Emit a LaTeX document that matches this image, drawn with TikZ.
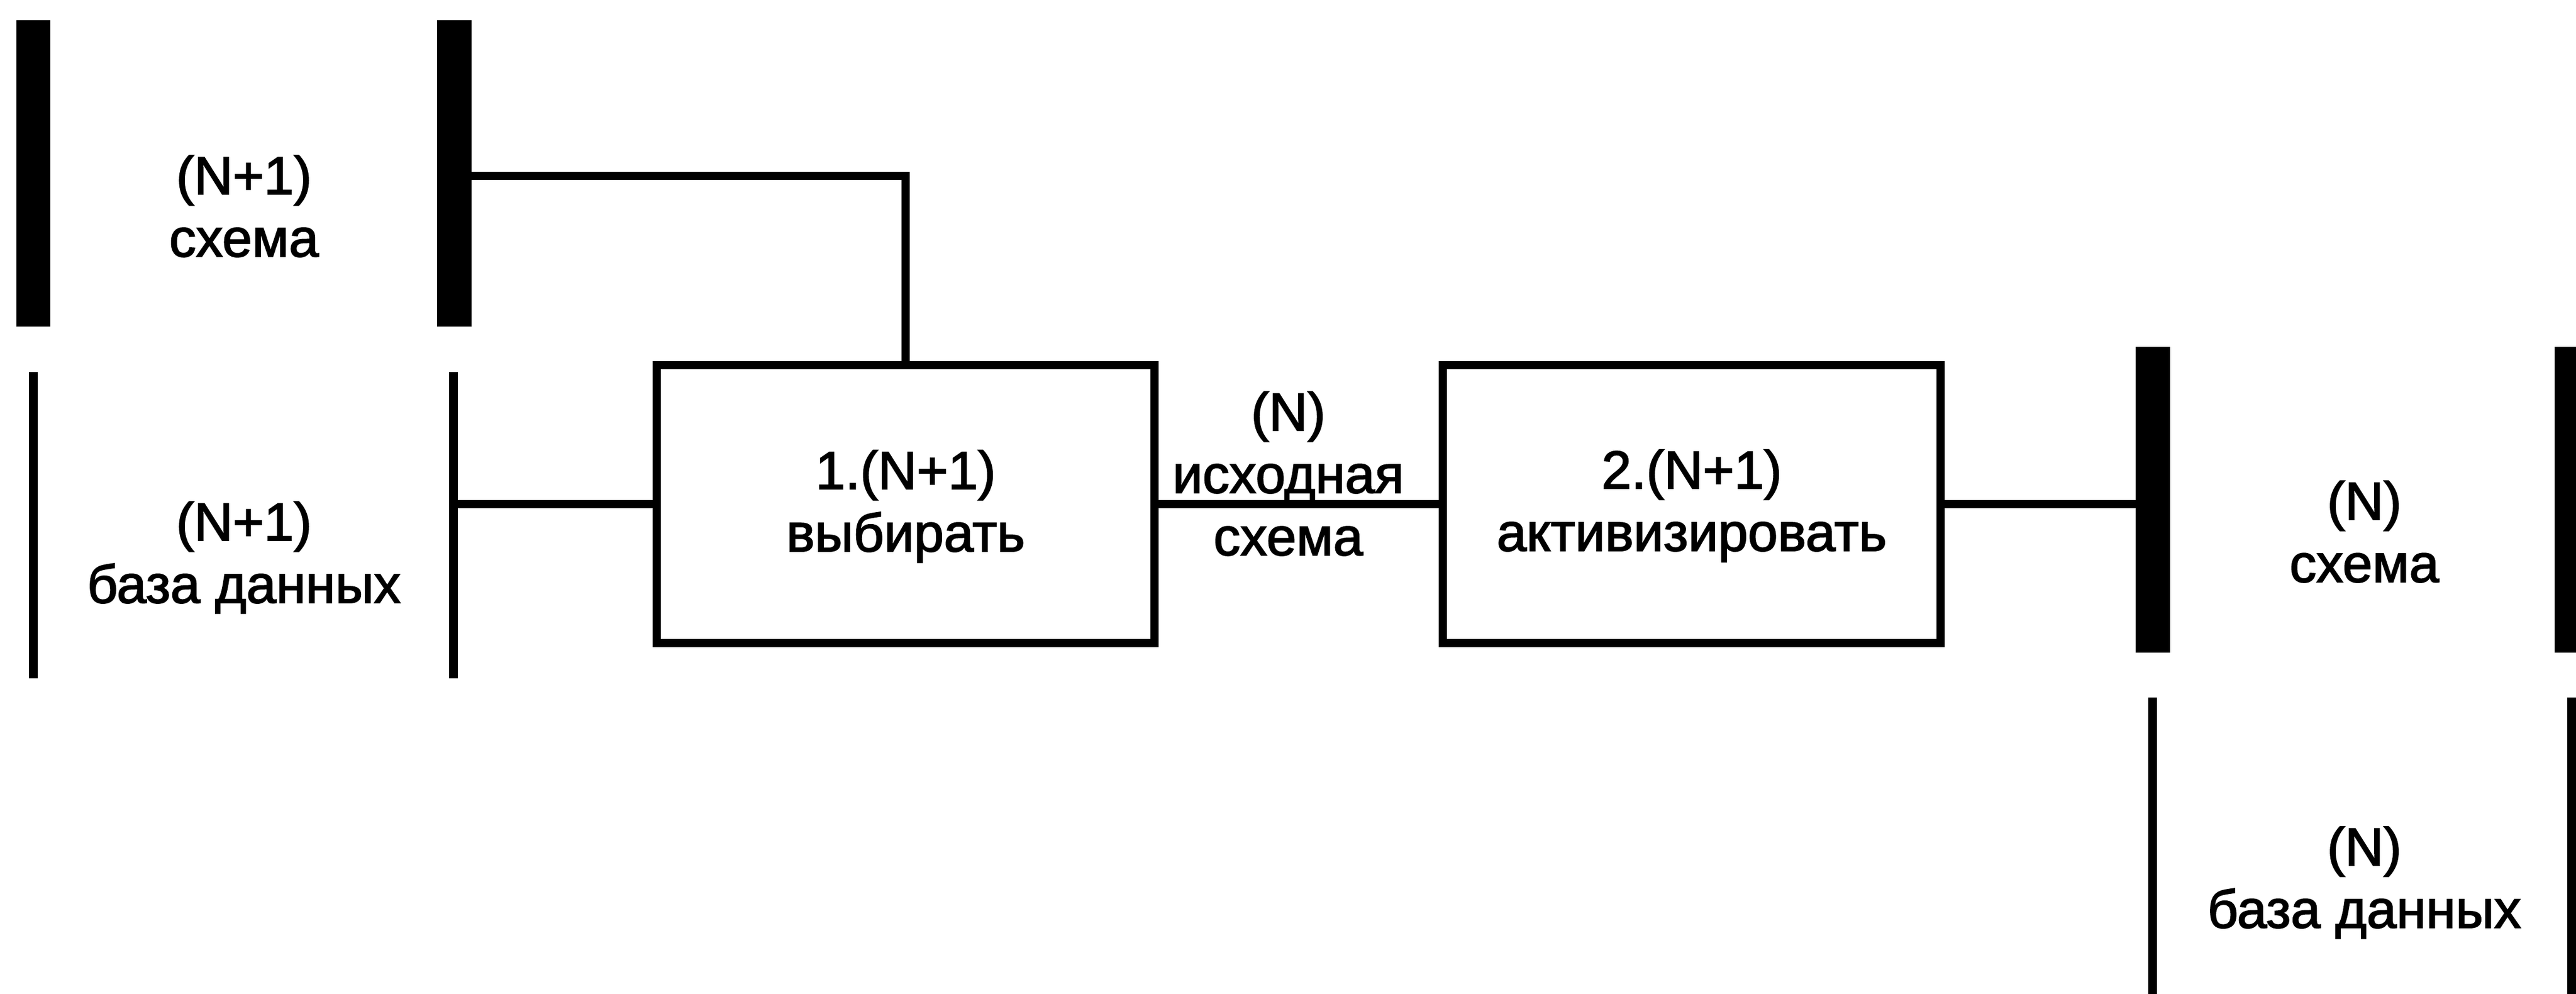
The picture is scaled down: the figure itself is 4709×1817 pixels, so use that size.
\documentclass[tikz,border=0pt]{standalone}
\usepackage{fontspec}
\setmainfont{Liberation Sans}
\newfontfamily\lblfont{Liberation Sans}[FakeBold=2]
\begin{document}
\begin{tikzpicture}[x=0.1pt,y=-0.1pt,
  thickbar/.style={rectangle,fill=black,draw=none,inner sep=0,outer sep=0,minimum width=6.3pt,minimum height=56pt},
  thinbar/.style={rectangle,fill=black,draw=none,inner sep=0,outer sep=0,minimum width=1.6pt,minimum height=56pt},
  procbox/.style={rectangle,draw=black,line width=1.5pt,inner sep=0,minimum width=91pt,minimum height=50.8pt},
  conn/.style={line width=1.5pt},
  lbl/.style={inner sep=0,anchor=base,font=\lblfont\fontsize{9.8}{11.4}\selectfont}]
\useasboundingbox (0,0) rectangle (4709,1817);
\clip (0,0) rectangle (4709,1817);
% data stores
\node[thickbar] (s1) at (61,317) {};
\node[thickbar] (s2) at (830,317) {};
\node[thinbar] (d1) at (61,960) {};
\node[thinbar] (d2) at (829,960) {};
\node[thickbar] (s3) at (3935,913.5) {};
\node[thickbar] (s4) at (4701,913.5) {};
\node[thinbar] (d3) at (3935,1555) {};
\node[thinbar] (d4) at (4701,1555) {};
% processes
\node[procbox] (p1) at (1655.5,921.5) {};
\node[procbox] (p2) at (3092.5,921.5) {};
% connectors
\draw[conn] ([yshift=-0.5pt]s2.east) -| (p1.north);
\draw[conn] (p1.west) -- (p1.west -| d2.center);
\draw[conn] (p1.east) -- (p2.west);
\draw[conn] (p2.east) -- (p2.east -| s3.west);
% labels
\node[lbl] (t1) at (446,355) {\begin{tabular}[t]{@{}c@{}}(N+1)\\схема\end{tabular}};
\node[lbl] (t2) at (446,988) {\begin{tabular}[t]{@{}c@{}}(N+1)\\база данных\end{tabular}};
\node[lbl] (t3) at (1655.5,894) {\begin{tabular}[t]{@{}c@{}}1.(N+1)\\выбирать\end{tabular}};
\node[lbl] (t4) at (2355,787) {\begin{tabular}[t]{@{}c@{}}(N)\\исходная\\схема\end{tabular}};
\node[lbl] (t5) at (3092.5,893) {\begin{tabular}[t]{@{}c@{}}2.(N+1)\\активизировать\end{tabular}};
\node[lbl] (t6) at (4322,950) {\begin{tabular}[t]{@{}c@{}}(N)\\схема\end{tabular}};
\node[lbl] (t7) at (4322,1582) {\begin{tabular}[t]{@{}c@{}}(N)\\база данных\end{tabular}};
\end{tikzpicture}
\end{document}
